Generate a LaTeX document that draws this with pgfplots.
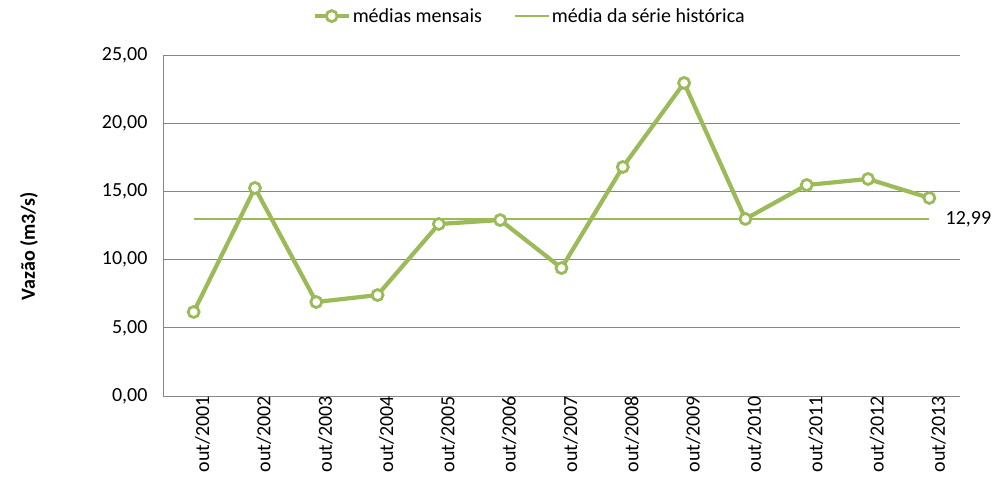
\documentclass[border=0pt]{standalone}
\usepackage{pgfplots}
\pgfplotsset{compat=1.18}
\usepackage{fontspec}
\setmainfont{Carlito}
\definecolor{lgreen}{HTML}{9BBB59}
\definecolor{gridg}{HTML}{868686}
\newcommand{\bigf}{\fontsize{20pt}{24pt}\selectfont}
\begin{document}
\begin{tikzpicture}[x=1pt,y=1pt, every node/.append style={font=\bigf}]
\useasboundingbox (0,0) rectangle (993,491);
\node[rotate=90, font=\bigf\bfseries] at (29,245) {Vazão (m3/s)};
\begin{axis}[
  at={(163pt,95pt)}, anchor=south west,
  scale only axis, width=797pt, height=341pt,
  clip=false,
  xmin=-0.5, xmax=12.5, ymin=0, ymax=25,
  xtick={0,...,12},
  xticklabels={out/2001,out/2002,out/2003,out/2004,out/2005,out/2006,out/2007,out/2008,out/2009,out/2010,out/2011,out/2012,out/2013},
  xticklabel style={rotate=90, anchor=east, inner sep=0pt, yshift=-9pt, font=\bigf},
  ytick={0,5,10,15,20,25},
  yticklabel style={xshift=-12pt, font=\bigf},
  /pgf/number format/fixed,
  /pgf/number format/fixed zerofill,
  /pgf/number format/precision=2,
  /pgf/number format/use comma,
  /pgf/number format/1000 sep={},
  /pgf/number format/assume math mode=true,
  major tick length=0pt,
  ymajorgrids, grid style={gridg, line width=0.8pt},
  axis x line*=bottom, axis y line*=left,
  axis line style={gridg, line width=0.8pt, -},
  legend columns=2,
  legend style={draw=none, fill=none, at={(0.46,1.114)}, anchor=center, font=\bigf,
    /tikz/every even column/.append style={column sep=30pt}},
  legend cell align=left,
  legend image code/.code={
    \draw[#1, mark=none] (0pt,0pt) -- (34pt,0pt);
    \draw[#1, only marks] plot coordinates {(17pt,0pt)};
  },
]
\addplot[lgreen, line width=4.2pt, mark=*, mark size=5.5pt, mark options={line width=2.8pt, fill=white, draw=lgreen}] coordinates {
(0,6.16) (1,15.25) (2,6.89) (3,7.40) (4,12.61) (5,12.90) (6,9.38) (7,16.79) (8,22.95) (9,12.98) (10,15.47) (11,15.91) (12,14.52)
};
\addlegendentry{médias mensais}
\addplot[lgreen, line width=2pt, mark=none] coordinates {(0,12.99) (12,12.99)} node[pos=1, anchor=west, black, xshift=12pt, font=\bigf] {12,99};
\addlegendentry{média da série histórica}
\end{axis}
\end{tikzpicture}
\end{document}
